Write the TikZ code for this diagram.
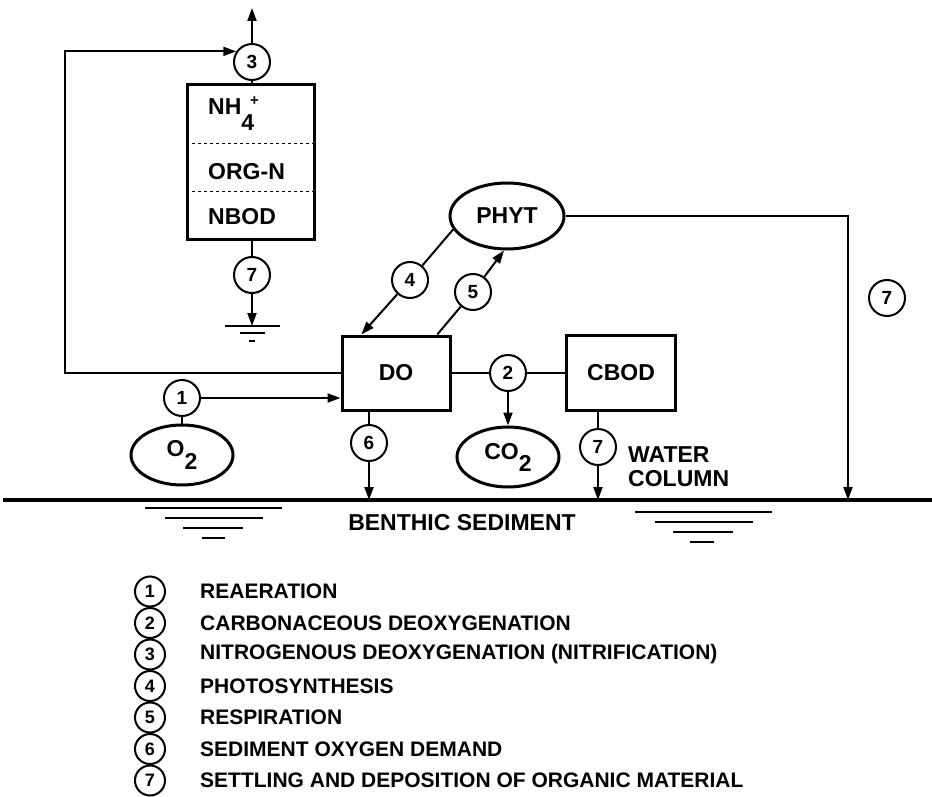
\documentclass[tikz,border=0pt]{standalone}
\usepackage{fontspec}
\setmainfont{Liberation Sans}
\usetikzlibrary{positioning,shapes.geometric,arrows.meta}

\begin{document}
\begin{tikzpicture}[x=1pt, y=-1pt,
    pbox/.style={draw, line width=3pt, minimum width=108pt, minimum height=74pt,
                 inner sep=0pt, font=\fontsize{23}{27}\selectfont\bfseries},
    pool/.style={draw, ellipse, line width=3pt, minimum width=102pt,
                 minimum height=60pt, inner sep=0pt,
                 font=\fontsize{23}{24}\selectfont\bfseries},
    rate/.style={draw, circle, line width=2pt, minimum size=36pt, inner sep=0pt,
                 font=\fontsize{19}{19}\selectfont\bfseries},
    key/.style={draw, circle, line width=2pt, minimum size=30pt, inner sep=0pt,
                font=\fontsize{18}{18}\selectfont\bfseries},
    lbl/.style={inner sep=0pt, font=\fontsize{23}{24}\selectfont\bfseries},
    ln/.style={line width=2pt},
    arr/.style={-{Triangle[length=13pt,width=9pt]}, line width=2pt}
]
\useasboundingbox (0,0) rectangle (932,797);

% nitrogen box
\node[pbox, minimum width=127pt, minimum height=154pt] (nbox) at (251,162) {};
\node[lbl, anchor=base west] (nh4) at (208,115)
  {NH\raisebox{-16pt}{4}\hspace{-4pt}\raisebox{9pt}{\fontsize{15}{15}\selectfont +}};
\node[lbl, anchor=west] (orgn) at (208,172) {ORG-N};
\node[lbl, anchor=west] (nbod) at (208,217) {NBOD};
\draw[dashed, line width=1.5pt] ([yshift=-60pt]nbox.north west) -- ([yshift=-60pt]nbox.north east);
\draw[dashed, line width=1.5pt] ([yshift=-108pt]nbox.north west) -- ([yshift=-108pt]nbox.north east);

% state variables
\node[pbox] (do) at (396,373) {DO};
\node[pbox, minimum width=109pt, minimum height=75pt] (cbod) at (621,373) {CBOD};
\node[pool, minimum width=114pt, minimum height=66pt] (phyt) at (507,216) {PHYT};
\node[pool] (o2) at (182,455) {O\raisebox{-13pt}{2}};
\node[pool] (co2) at (508,457) {CO\raisebox{-12pt}{2}};

% rates
\node[rate] (c1) at (182,398) {1};
\node[rate] (c2) at (508,373) {2};
\node[rate] (c3) at (252,62) {3};
\node[rate] (c4) at (410,280) {4};
\node[rate] (c5) at (473,292) {5};
\node[rate] (c6) at (369,443) {6};
\node[rate] (c7a) at (252,275) {7};
\node[rate] (c7b) at (598,447) {7};
\node[rate] (c7c) at (887,298) {7};

\node[lbl, align=left, anchor=west] (wcol) at (628,467) {WATER\\COLUMN};
\node[lbl] (bsed) at (462,523) {BENTHIC SEDIMENT};

\coordinate (bedL) at (3,500);
\coordinate (bedR) at (932,500);
\coordinate (vent) at (252,8);
\coordinate (gnd) at (252,326);
\coordinate (fb) at (65,373);
\coordinate (drop) at (848,500);

% connectors
\draw[line width=3.5pt] (bedL) -- (bedR);
\draw[arr] (c3) -- (vent);
\draw[ln] (c3) -- (c3 |- nbox.north);
\draw[ln] (nbox.south -| c7a) -- (c7a);
\draw[arr] (c7a) -- (gnd);
\draw[ln] ([xshift=-27pt]gnd) -- ([xshift=28pt]gnd);
\draw[ln] ([xshift=-12pt,yshift=-7pt]gnd) -- ([xshift=13pt,yshift=-7pt]gnd);
\draw[ln] ([xshift=-3pt,yshift=-15pt]gnd) -- ([xshift=3pt,yshift=-15pt]gnd);
\draw[arr] (do.west) -- (fb) |- (c3.146);
\draw[arr] (c1) -- (c1 -| do.west);
\draw[ln] (c1) -- (o2);
\draw[ln] (do) -- (c2) -- (cbod);
\draw[arr] (c2) -- (co2);
\draw[ln] (do.south -| c6) -- (c6);
\draw[arr] (c6) -- (c6 |- bedL);
\draw[ln] (cbod.south -| c7b) -- (c7b);
\draw[arr] (c7b) -- (c7b |- bedL);
\draw[ln] (phyt.194) -- (c4);
\draw[arr] (c4) -- (do.132);
\draw[ln] (do.43) -- (c5);
\draw[arr] (c5) -- (phyt.265);
\draw[arr] (phyt.east) -| (drop);

% sediment marks
\foreach \y/\a/\b in {508/145/282, 518/165/263, 528/183/243, 538/202/225,
                      512/635/772, 522/655/753, 532/673/733, 542/690/714}
  \draw[line width=1.5pt] (\a,\y) -- (\b,\y);

% key
\foreach \n/\txt in {1/REAERATION, 2/CARBONACEOUS DEOXYGENATION,
                     3/{NITROGENOUS DEOXYGENATION (NITRIFICATION)},
                     4/PHOTOSYNTHESIS, 5/RESPIRATION, 6/SEDIMENT OXYGEN DEMAND,
                     7/SETTLING AND DEPOSITION OF ORGANIC MATERIAL} {
  \node[key] (k\n) at (150,{560+31.5*\n}) {\n};
  \node[lbl, anchor=west, font=\fontsize{21}{22}\selectfont\bfseries] (t\n)
    at (200,{560+31.5*\n}) {\txt};
}
\end{tikzpicture}
\end{document}
